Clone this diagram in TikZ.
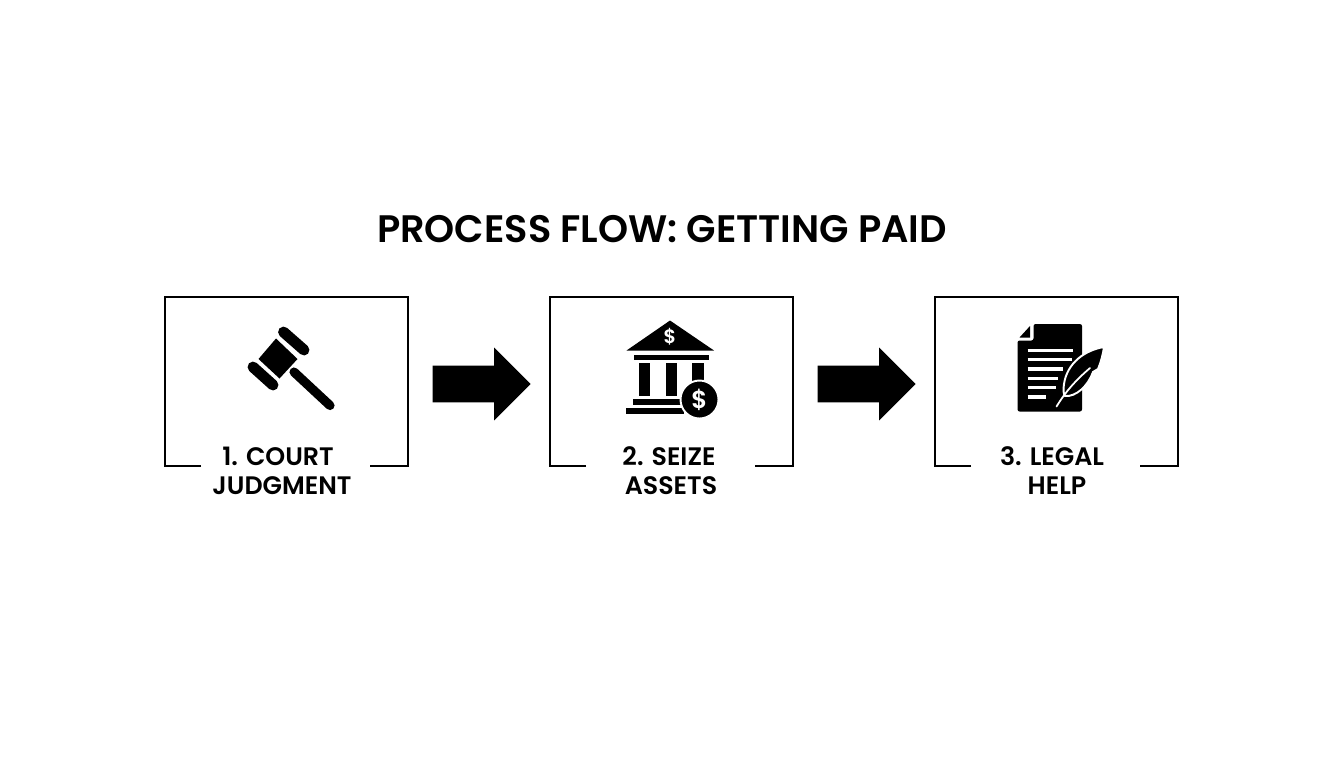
\documentclass[tikz,border=0pt]{standalone}
\usepackage{fontspec}
\setmainfont[BoldFont={Poppins SemiBold}]{Poppins}
\usetikzlibrary{shapes.arrows}
\begin{document}
\begin{tikzpicture}[
        x=0.02cm, y=-0.02cm,
        boxline/.style={draw=black, line width=1.6pt},
        blockarrow/.style={single arrow, anchor=tip, fill=black, inner xsep=0pt, inner ysep=0.36cm, minimum width=1.44cm, minimum height=1.96cm, single arrow head extend=0.36cm, single arrow head indent=0pt},
        heading/.style={font=\fontsize{21.8}{26}\selectfont\bfseries, inner sep=0pt},
        steplabel/.style={font=\fontsize{14.4}{16}\selectfont\bfseries, inner sep=0pt},
        icon/.style={fill=black, draw=none},
        coin/.style={circle, fill=black, draw=white, line width=1.1pt, minimum size=0.76cm, inner sep=0pt},
        dollar/.style={text=white, inner sep=0pt, font=\bfseries},
    ]

        \useasboundingbox (0,0) rectangle (1344,768);

        \node[heading] (title) at (662,229) {PROCESS FLOW: GETTING PAID};

        % open boxes
        \foreach \xpos in {165,550,935} {
            \draw[boxline] (\xpos+36,466) -- (\xpos,466) -- (\xpos,297) -- (\xpos+243,297) -- (\xpos+243,466) -- (\xpos+205,466);
        }

        \node[blockarrow] (arrow1) at (531,384) {};
        \node[blockarrow] (arrow2) at (916,384) {};

        \node[steplabel] (court) at (278,456) {1. COURT};
        \node[steplabel] (judgment) at (282,486) {JUDGMENT};
        \node[steplabel] (seize) at (669,456) {2. SEIZE};
        \node[steplabel] (assets) at (671,486) {ASSETS};
        \node[steplabel] (legal) at (1052,456) {3. LEGAL};
        \node[steplabel] (help) at (1057,486) {HELP};

        % gavel
        \draw[black, line width=6.2pt, line cap=round] (283.5,332) -- (304,350);
        \draw[black, line width=6.2pt, line cap=round] (253,367) -- (273,385);
        \draw[black, line width=5.2pt, line cap=round] (294,372) -- (330,405.5);
        \fill[icon] (276,338.5) -- (297.5,359) -- (279.5,378.5) -- (258.5,359) -- cycle;

        % bank
        \fill[icon] (670,320.5) -- (714,350.5) -- (626.5,350.5) -- cycle;
        \fill[icon] (633.5,354.5) rectangle (708.5,359.5);
        \foreach \xpos in {638.5,665.5,692} {
            \fill[icon] (\xpos,362.5) rectangle (\xpos+11.5,395.5);
        }
        \fill[icon] (632.5,399) rectangle (684,404.5);
        \fill[icon] (625.5,407.5) rectangle (684,413.5);
        \node[coin] (coindisc) at (699.5,399.5) {};
        \node[dollar, font=\fontsize{14}{14}\selectfont\bfseries] (coinsign) at (coindisc) {\$};
        \node[dollar, font=\fontsize{11}{11}\selectfont\bfseries] (roofsign) at (670,337) {\$};

        % document and quill
        \fill[icon, rounded corners=1.2pt] (1033.5,324) -- (1082,324) -- (1082,411.5) -- (1017.5,411.5) -- (1017.5,340.5) -- (1033.5,340.5) -- cycle;
        \fill[icon] (1030,326) -- (1030,337.5) -- (1019.5,337.5) -- cycle;
        \foreach \xend/\ypos in {1072.5/350.5,1071.5/359.5,1062.5/369,1057.5/378.5,1056/387.5,1045.5/397} {
            \draw[white, line width=1.9pt] (1027.5,\ypos) -- (\xend,\ypos);
        }
        \fill[icon, draw=white, line width=1.1pt] (1104,347) .. controls (1085,350) and (1067,363) .. (1064,384) .. controls (1063,390) and (1063.5,394) .. (1065,396) .. controls (1076,397) and (1088,386) .. (1093,372) -- (1098,369) .. controls (1101,362) and (1103,354) .. (1104,347) -- cycle;
        \draw[white, line width=1pt, line cap=round] (1056.5,406.5) .. controls (1066,391) and (1076,380) .. (1090,368);

    \end{tikzpicture}
\end{document}
